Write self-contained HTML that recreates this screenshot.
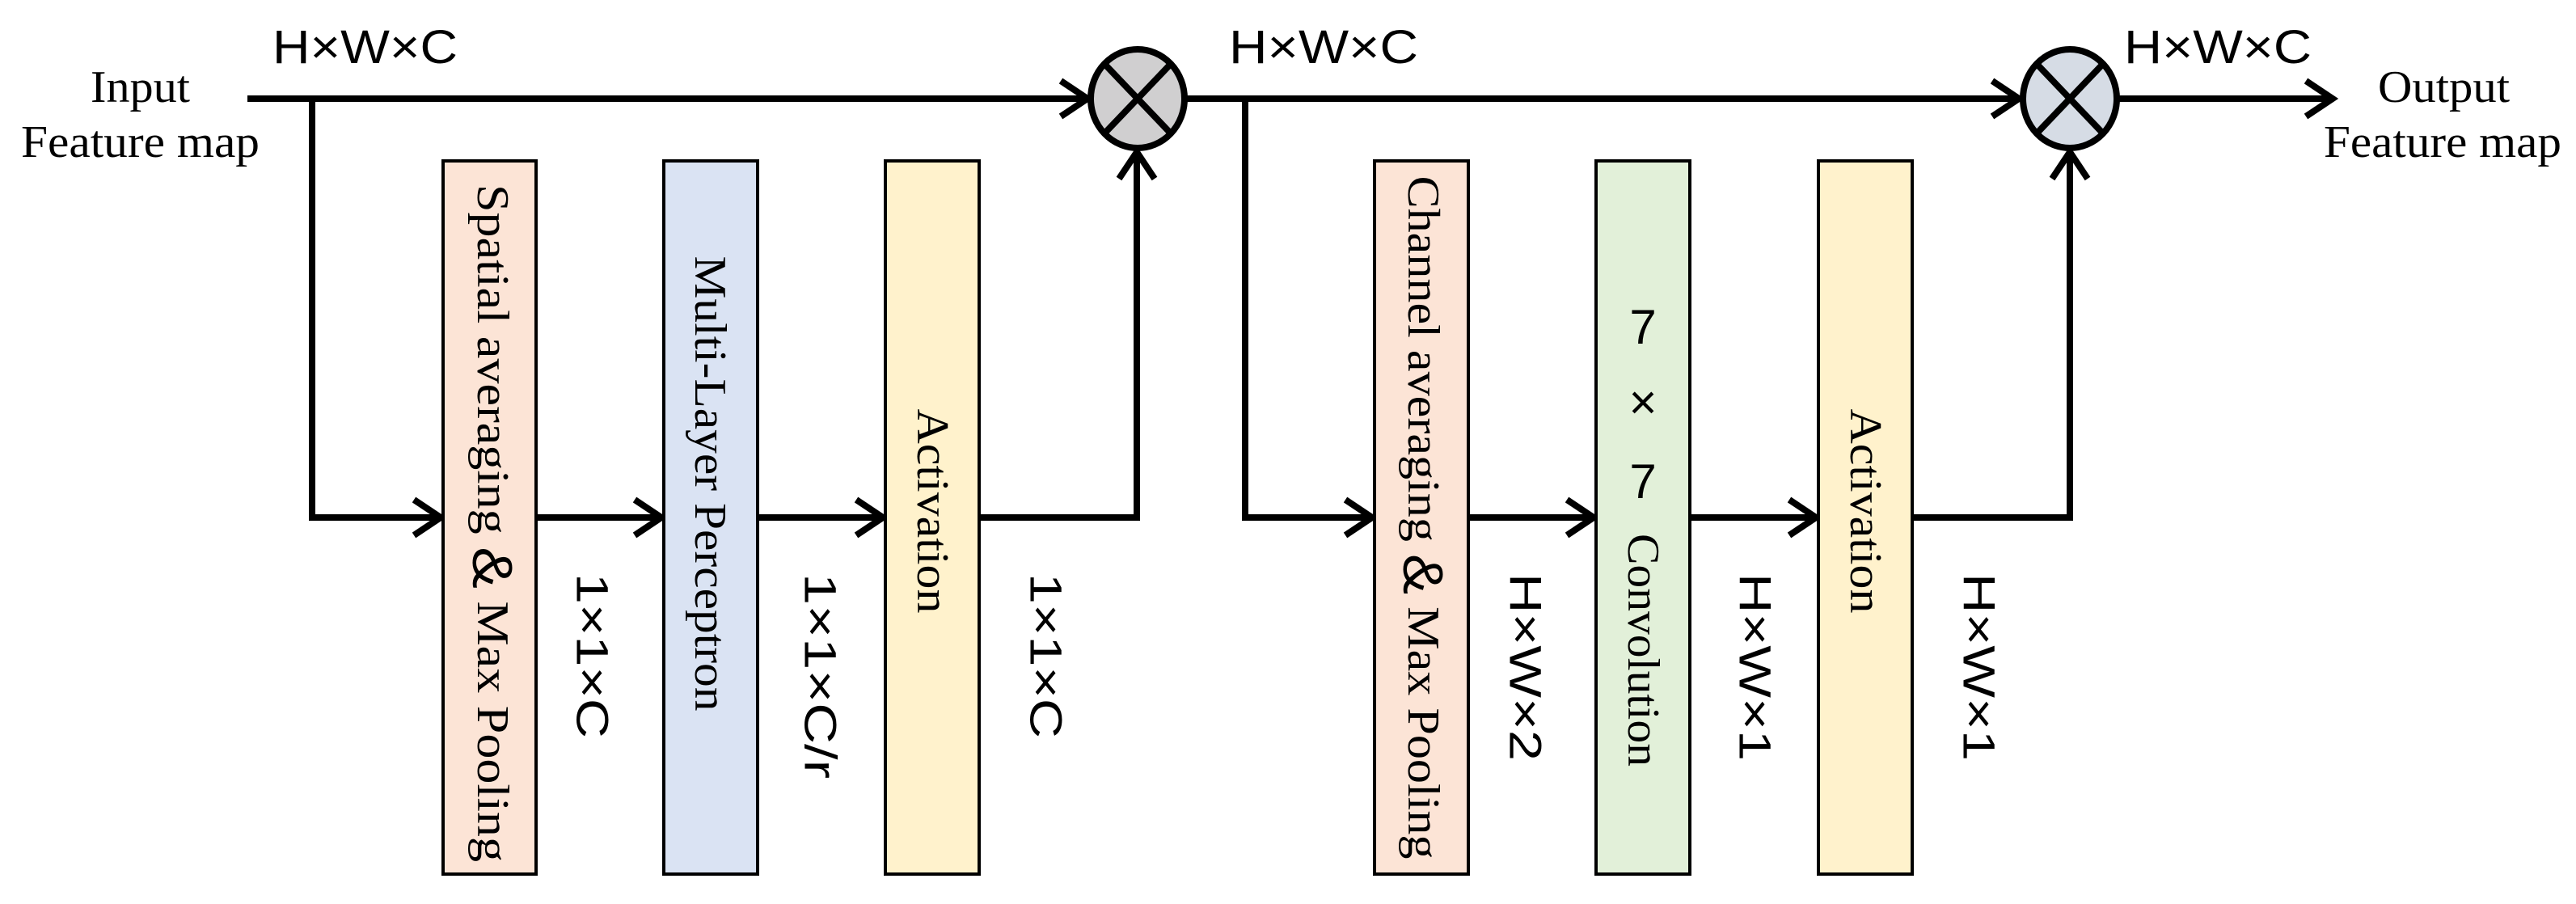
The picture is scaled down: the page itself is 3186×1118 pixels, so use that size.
<!DOCTYPE html>
<html><head><meta charset="utf-8"><style>
html,body{margin:0;padding:0;background:#fff;}
svg{display:block;}
.serif{font-family:"Liberation Serif",serif;}
.sans{font-family:"Liberation Sans",sans-serif;}
</style></head><body>
<svg width="3186" height="1118" viewBox="0 0 3186 1118" xmlns="http://www.w3.org/2000/svg">
<g fill="none" stroke="#000" stroke-width="8" stroke-linejoin="miter" stroke-linecap="butt">
  <path d="M306 122 H1345"/>
  <path d="M1312 100 L1345 122 L1312 144"/>
  <path d="M386 122 V640 H545"/>
  <path d="M512 618 L545 640 L512 662"/>
  <path d="M663 640 H818"/>
  <path d="M785 618 L818 640 L785 662"/>
  <path d="M937 640 H1092"/>
  <path d="M1059 618 L1092 640 L1059 662"/>
  <path d="M1211 640 H1406 V188"/>
  <path d="M1384 221 L1406 188 L1428 221"/>
  <path d="M1467 122 H2497"/>
  <path d="M2464 100 L2497 122 L2464 144"/>
  <path d="M1540 122 V640 H1697"/>
  <path d="M1664 618 L1697 640 L1664 662"/>
  <path d="M1816 640 H1971"/>
  <path d="M1938 618 L1971 640 L1938 662"/>
  <path d="M2090 640 H2246"/>
  <path d="M2213 618 L2246 640 L2213 662"/>
  <path d="M2365 640 H2560 V188"/>
  <path d="M2538 221 L2560 188 L2582 221"/>
  <path d="M2621 122 H2885"/>
  <path d="M2852 100 L2885 122 L2852 144"/>
</g>
<g stroke="#000" stroke-width="4">
  <rect x="548" y="199" width="115" height="882" fill="#fce4d6"/>
  <rect x="821" y="199" width="116" height="882" fill="#dae3f3"/>
  <rect x="1095" y="199" width="116" height="882" fill="#fff2cc"/>
  <rect x="1700" y="199" width="116" height="882" fill="#fce4d6"/>
  <rect x="1974" y="199" width="116" height="882" fill="#e2f0d9"/>
  <rect x="2249" y="199" width="116" height="882" fill="#fff2cc"/>
</g>
<g stroke="#000" stroke-width="8">
  <ellipse cx="1407" cy="122" rx="58" ry="61" fill="#d0cfd0"/>
  <path d="M1366 79 L1448 165 M1448 79 L1366 165"/>
  <ellipse cx="2560" cy="122" rx="58" ry="61" fill="#d6dce5"/>
  <path d="M2519 79 L2601 165 M2601 79 L2519 165"/>
</g>
<g class="sans" font-size="58" fill="#000">
  <text x="337" y="78" textLength="229" lengthAdjust="spacingAndGlyphs">H×W×C</text>
  <text x="1520" y="78" textLength="234" lengthAdjust="spacingAndGlyphs">H×W×C</text>
  <text x="2627" y="78" textLength="232" lengthAdjust="spacingAndGlyphs">H×W×C</text>
</g>
<g class="serif" font-size="56" fill="#000">
  <text x="112" y="126" textLength="123" lengthAdjust="spacingAndGlyphs">Input</text>
  <text x="26" y="194" textLength="295" lengthAdjust="spacingAndGlyphs">Feature map</text>
  <text x="2941" y="126" textLength="163" lengthAdjust="spacingAndGlyphs">Output</text>
  <text x="2874" y="194" textLength="294" lengthAdjust="spacingAndGlyphs">Feature map</text>
</g>
<g class="serif" font-size="56" fill="#000">
  <text transform="translate(609,647) rotate(90)" text-anchor="middle" dominant-baseline="central" textLength="838" lengthAdjust="spacingAndGlyphs">Spatial averaging <tspan class="sans" font-size="70">&amp;</tspan> Max Pooling</text>
  <text transform="translate(878,598) rotate(90)" text-anchor="middle" dominant-baseline="central" textLength="563" lengthAdjust="spacingAndGlyphs">Multi-Layer Perceptron</text>
  <text transform="translate(1153,632) rotate(90)" text-anchor="middle" dominant-baseline="central" textLength="253" lengthAdjust="spacingAndGlyphs">Activation</text>
  <text transform="translate(1760,640) rotate(90)" text-anchor="middle" dominant-baseline="central" textLength="845" lengthAdjust="spacingAndGlyphs">Channel averaging <tspan class="sans" font-size="70">&amp;</tspan> Max Pooling</text>
  <text transform="translate(2032,804) rotate(90)" text-anchor="middle" dominant-baseline="central" textLength="288" lengthAdjust="spacingAndGlyphs">Convolution</text>
  <text transform="translate(2307,632) rotate(90)" text-anchor="middle" dominant-baseline="central" textLength="253" lengthAdjust="spacingAndGlyphs">Activation</text>
</g>
<g class="sans" font-size="60" fill="#000" text-anchor="middle">
  <text x="2032" y="425">7</text>
  <text x="2032" y="518">×</text>
  <text x="2032" y="616">7</text>
</g>
<g class="sans" font-size="56" fill="#000">
  <text transform="translate(733,811) rotate(90)" text-anchor="middle" dominant-baseline="central" textLength="204" lengthAdjust="spacingAndGlyphs">1×1×C</text>
  <text transform="translate(1015,836) rotate(90)" text-anchor="middle" dominant-baseline="central" textLength="254" lengthAdjust="spacingAndGlyphs">1×1×C/r</text>
  <text transform="translate(1294,811) rotate(90)" text-anchor="middle" dominant-baseline="central" textLength="204" lengthAdjust="spacingAndGlyphs">1×1×C</text>
  <text transform="translate(1887,825) rotate(90)" text-anchor="middle" dominant-baseline="central" textLength="232" lengthAdjust="spacingAndGlyphs">H×W×2</text>
  <text transform="translate(2171,825) rotate(90)" text-anchor="middle" dominant-baseline="central" textLength="232" lengthAdjust="spacingAndGlyphs">H×W×1</text>
  <text transform="translate(2448,825) rotate(90)" text-anchor="middle" dominant-baseline="central" textLength="232" lengthAdjust="spacingAndGlyphs">H×W×1</text>
</g>
</svg>
</body></html>
